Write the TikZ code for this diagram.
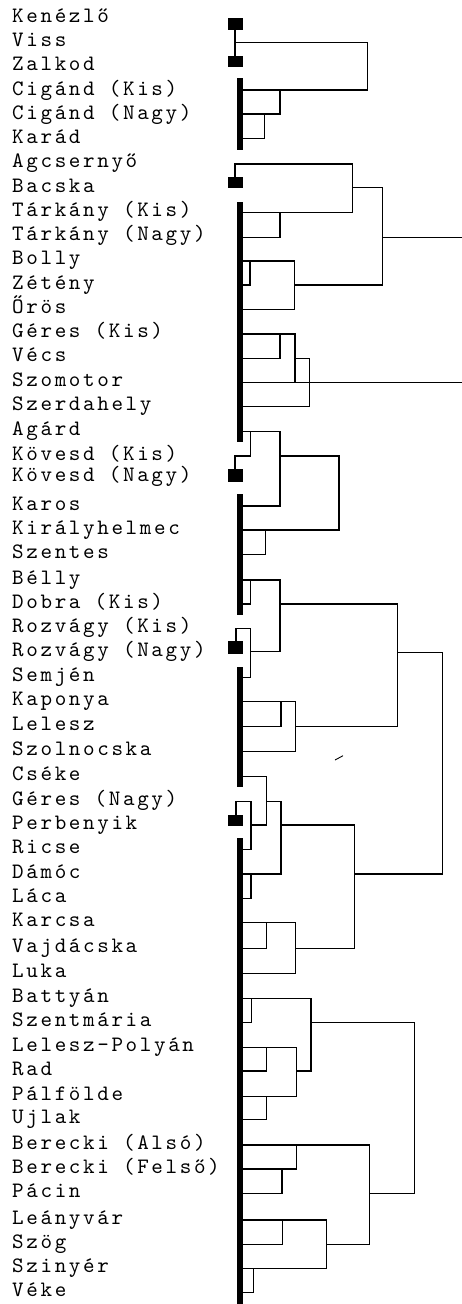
\documentclass[tikz,border=0pt]{standalone}
\usepackage{fontspec}
\newfontfamily\lblfont{lmmono10-regular}[Extension=.otf,LetterSpace=12]
\begin{document}
\begin{tikzpicture}[x=1pt,y=-1pt,
  lbl/.style={anchor=base west,inner sep=0pt,font=\lblfont\fontsize{22}{24}\selectfont},
  br/.style={line width=1.1pt,line join=miter,line cap=rect},
  blk/.style={fill=black}]
\useasboundingbox[fill=white] (0,0) rectangle (462,1304);
% labels
\foreach \t [count=\i from 0] in {Kenézlő,Viss,Zalkod,Cigánd (Kis),Cigánd (Nagy),Karád,Agcsernyő,Bacska,Tárkány (Kis),Tárkány (Nagy),Bolly,Zétény,Őrös,Géres (Kis),Vécs,Szomotor,Szerdahely}
  {\node[lbl] (t\i) at (12,{46.7+24.25*(\i-1)}) {\t};}
\foreach \t/\yy [count=\i from 17] in {Agárd/431.7,Kövesd (Kis)/456,Kövesd (Nagy)/477,Karos/506,Királyhelmec/530,Szentes/554.3,Bélly/580,Dobra (Kis)/604,Rozvágy (Kis)/628.3,Rozvágy (Nagy)/652,Semjén/677.3,Kaponya/701.7,Lelesz/726.7,Szolnocska/751.7,Cséke/776.7,Géres (Nagy)/801.7,Perbenyik/825,Ricse/849.3,Dámóc/874,Láca/898.3,Karcsa/922.7,Vajdácska/948.3,Luka/973.3,Battyán/998.3,Szentmária/1022.7,Lelesz-Polyán/1047.7,Rad/1071,Pálfölde/1096.7,Ujlak/1119.3,Berecki (Alsó)/1145,Berecki (Felső)/1169,Pácin/1193.3,Leányvár/1220,Szög/1244.3,Szinyér/1268.3,Véke/1292.7}
  {\node[lbl] (t\i) at (12,{\yy+4}) {\t};}
% thick axis bars
\foreach \a/\b in {78.3/150,201.7/441.7,494/615,666.7/786.7,838/1304}
  {\fill (236.5,\a) rectangle (242.5,\b);}
% squares
\foreach \a/\b in {18.3/30,56/66.7,176.7/188.3,469.3/481.7,640.7/654,815/826}
  {\fill (228.3,\a) rectangle (242.7,\b);}
% top cluster
\draw[br] (235,30)--(235,56);
\draw[br] (235,42.3)--(367.7,42.3)--(367.7,90)--(240,90);
\draw[br] (280,90)--(280,114)--(240,114);
\draw[br] (264.3,114)--(264.3,138.3)--(240,138.3);
% second cluster
\draw[br] (235,176.7)--(235,164)--(352.7,164)--(352.7,212.3)--(240,212.3);
\draw[br] (352.7,187.7)--(382.3,187.7)--(382.3,285);
\draw[br] (280,212.3)--(280,237.3)--(240,237.3);
\draw[br] (382.3,237.3)--(462,237.3);
\draw[br] (240,261)--(294.3,261)--(294.3,309.3)--(240,309.3);
\draw[br] (250,261)--(250,285)--(240,285);
\draw[br] (294.3,285)--(382.3,285);
\draw[br] (240,334)--(295,334)--(295,382.3);
\draw[br] (280,334)--(280,358.3)--(240,358.3);
\draw[br] (295,358.3)--(309.3,358.3)--(309.3,406.7)--(240,406.7);
\draw[br] (240,382.3)--(462,382.3);
% Agard cluster
\draw[br] (240,431.7)--(280,431.7)--(280,506)--(240,506);
\draw[br] (250.7,431.7)--(250.7,456)--(235,456)--(235,469.3);
\draw[br] (280,456)--(339,456)--(339,530)--(240,530);
\draw[br] (265.7,530)--(265.7,554.3)--(240,554.3);
% Belly cluster
\draw[br] (240,580)--(280,580)--(280,651.7)--(250.7,651.7);
\draw[br] (250.7,580)--(250.7,604)--(240,604);
\draw[br] (280,604)--(397.7,604)--(397.7,726.7)--(295.7,726.7);
\draw[br] (236,640.7)--(236,628.3)--(250.7,628.3)--(250.7,677.3)--(240,677.3);
\draw[br] (397.7,652.3)--(442.7,652.3)--(442.7,874)--(354.3,874);
\draw[br] (240,701.7)--(295.7,701.7)--(295.7,751.7)--(240,751.7);
\draw[br] (281,701.7)--(281,726.7)--(240,726.7);
\draw[line width=0.9pt] (335,760)--(343,755.7);
% Cseke cluster
\draw[br] (240,776.7)--(266.7,776.7)--(266.7,825)--(251,825);
\draw[br] (236,815)--(236,801.7)--(251,801.7)--(251,849.3)--(240,849.3);
\draw[br] (266.7,801.7)--(281,801.7)--(281,874)--(240,874);
\draw[br] (281,825)--(354.3,825)--(354.3,948.3)--(295.7,948.3);
\draw[br] (251,874)--(251,898.3)--(240,898.3);
\draw[br] (240,922.7)--(295.7,922.7)--(295.7,973.3)--(240,973.3);
\draw[br] (266.7,922.7)--(266.7,948.3)--(240,948.3);
% Battyan cluster
\draw[br] (240,998.3)--(311,998.3)--(311,1071)--(296.7,1071);
\draw[br] (251.7,998.3)--(251.7,1022.7)--(240,1022.7);
\draw[br] (311,1022.7)--(414.3,1022.7)--(414.3,1193.3)--(369.3,1193.3);
\draw[br] (240,1047.7)--(296.7,1047.7)--(296.7,1096.7)--(240,1096.7);
\draw[br] (266.7,1047.7)--(266.7,1071)--(240,1071);
\draw[br] (266.7,1096.7)--(266.7,1119.3)--(240,1119.3);
% Berecki cluster
\draw[br] (240,1145)--(369.3,1145)--(369.3,1244.3)--(326.7,1244.3);
\draw[br] (296.7,1145)--(296.7,1169)--(240,1169);
\draw[br] (282,1169)--(282,1193.3)--(240,1193.3);
\draw[br] (240,1220)--(326.7,1220)--(326.7,1268.3)--(240,1268.3);
\draw[br] (282.7,1220)--(282.7,1244.3)--(240,1244.3);
\draw[br] (253.3,1268.3)--(253.3,1292.7)--(240,1292.7);
\end{tikzpicture}
\end{document}
